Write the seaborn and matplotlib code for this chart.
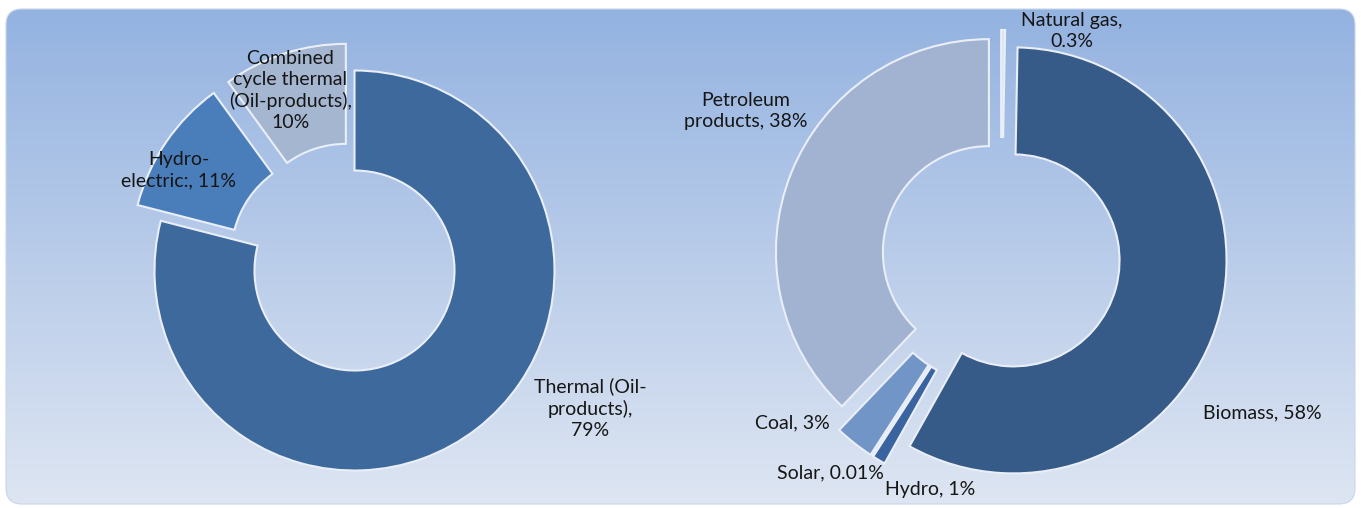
import numpy as np
import matplotlib
matplotlib.use("Agg")
from matplotlib import pyplot as plt
from matplotlib.patches import FancyBboxPatch
import seaborn as sns

# left donut: electricity generation
elec_labels = ["Thermal (Oil-\nproducts),\n79%", "Hydro-\nelectric:, 11%",
               "Combined\ncycle thermal\n(Oil-products),\n10%"]
elec_values = [79, 11, 10]
elec_colors = ["#3E699D", "#4A7EBB", "#A5B6D1"]

# right donut: primary energy supply
supply_labels = ["Natural gas,\n0.3%", "Biomass, 58%", "Hydro, 1%", "Solar, 0.01%",
                 "Coal, 3%", "Petroleum\nproducts, 38%"]
supply_values = [0.3, 58, 1, 0.01, 3, 38]
supply_colors = ["#DCE4F0", "#375B89", "#3A64A0", "#5A84C0", "#7295C8", "#A2B3D2"]

W, H = 1361, 508

sns.set_style("white")
plt.rcParams["font.family"] = ["Lato", "DejaVu Sans"]

fig = plt.figure(figsize=(W / 100, H / 100), dpi=100)
fig.patch.set_facecolor("white")

# background panel with vertical gradient
bg = fig.add_axes([0, 0, 1, 1])
bg.set_xlim(0, W)
bg.set_ylim(H, 0)
bg.axis("off")
panel = FancyBboxPatch((6, 9), W - 12, H - 13, boxstyle="round,pad=0,rounding_size=16",
                       facecolor="none", edgecolor="#c9d6ea", linewidth=0.8)
bg.add_patch(panel)
top_c = np.array([0.58, 0.70, 0.88])
bot_c = np.array([0.87, 0.90, 0.95])
t = np.linspace(0, 1, 256)[:, None]
grad = (top_c[None, :] * (1 - t) + bot_c[None, :] * t)[:, None, :]
img = bg.imshow(grad, extent=(6, W - 6, H - 4, 9), aspect="auto", zorder=0)
img.set_clip_path(panel)

edge = dict(edgecolor="#E9EEF7", linewidth=1.5)
txt = dict(ha="center", va="center", fontsize=14, color="#161616", linespacing=1.3)


def donut_axes(cx, cy, half=250):
    ax = fig.add_axes([(cx - half) / W, (H - cy - half) / H, 2 * half / W, 2 * half / H])
    ax.set_xlim(-half / 200, half / 200)
    ax.set_ylim(-half / 200, half / 200)
    ax.set_aspect("equal")
    ax.axis("off")
    return ax


ax1 = donut_axes(354.5, 270.5)
ax1.pie(elec_values, colors=elec_colors, startangle=90, counterclock=False,
        explode=[0, 0.14, 0.14], radius=1.0,
        wedgeprops=dict(width=0.5, **edge))
for lab, pos in zip(elec_labels, [(1.18, -0.69), (-0.88, 0.50), (-0.32, 0.90)]):
    ax1.text(pos[0], pos[1], lab, **txt)

ax2 = donut_axes(1001, 257)
ax2.pie(supply_values, colors=supply_colors, startangle=90, counterclock=False,
        explode=[0.07, 0.065, 0.12, 0.12, 0.12, 0.065], radius=1.065,
        wedgeprops=dict(width=0.535, **edge))
pos2 = [(0.355, 1.13), (1.305, -0.78), (-0.355, -1.165), (-0.855, -1.08),
        (-1.045, -0.83), (-1.275, 0.73)]
for lab, pos in zip(supply_labels, pos2):
    ax2.text(pos[0], pos[1], lab, **txt)

fig.savefig("out.png", dpi=100, facecolor="white")
